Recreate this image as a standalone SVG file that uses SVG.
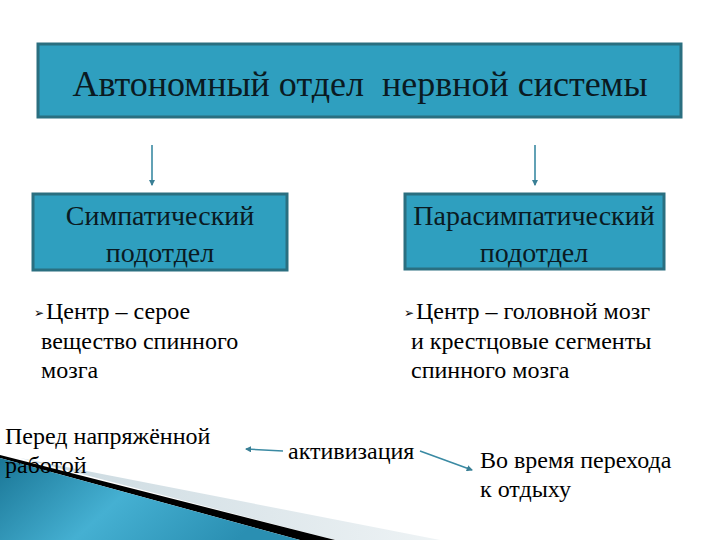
<svg xmlns="http://www.w3.org/2000/svg" width="720" height="540" viewBox="0 0 720 540">
<defs>
<style>
.box{fill:#2f9fbf;stroke:#2a6f80;stroke-width:3}
.t{fill:#0a1a22;font-family:'Liberation Serif','Tinos','Noto Serif','Times New Roman',Times,serif}
.big{font-size:36px}
.mid{font-size:28px}
.sm{font-size:24px;fill:#000}
.con{stroke:#3a8aa3;stroke-width:1.6;fill:none}
</style>
<marker id="ah" viewBox="0 0 6 6" refX="5" refY="3" markerWidth="4" markerHeight="4" orient="auto">
<path d="M0,0 L6,3 L0,6 z" fill="#3a7f95"/>
</marker>
<linearGradient id="bg" x1="0" y1="0" x2="1" y2="0.3">
<stop offset="0" stop-color="#1a7696"/>
<stop offset="0.5" stop-color="#45b0d2"/>
<stop offset="1" stop-color="#2a8fb2"/>
</linearGradient>
<linearGradient id="gg" x1="0" y1="0" x2="1" y2="0">
<stop offset="0" stop-color="#c9d8df"/>
<stop offset="1" stop-color="#eef3f5"/>
</linearGradient>
</defs>
<rect width="720" height="540" fill="#fff"/>
<g id="decor">
<polygon points="20,458 440,540 335,540" fill="url(#gg)"/>
<polygon points="0,455 335,540 300,540 0,458" fill="#000"/>
<polygon points="0,458 300,540 0,540" fill="url(#bg)"/>
</g>
<g id="connectors">
<line class="con" x1="152" y1="145" x2="152" y2="185" marker-end="url(#ah)"/>
<line class="con" x1="535" y1="145" x2="535" y2="185" marker-end="url(#ah)"/>
<line class="con" x1="283" y1="451" x2="246" y2="449" marker-end="url(#ah)"/>
<line class="con" x1="420" y1="451" x2="472" y2="470" marker-end="url(#ah)"/>
</g>
<g id="root">
<rect class="box" x="38" y="44" width="643" height="73"/>
<text class="t big" x="360" y="96" text-anchor="middle" xml:space="preserve">Автономный отдел  нервной системы</text>
</g>
<g id="sympathetic">
<rect class="box" x="33" y="194" width="254" height="76"/>
<text class="t mid" x="160" y="225" text-anchor="middle">Симпатический</text>
<text class="t mid" x="160" y="262" text-anchor="middle">подотдел</text>
</g>
<g id="parasympathetic">
<rect class="box" x="405" y="194" width="259" height="75"/>
<text class="t mid" x="534" y="225" text-anchor="middle">Парасимпатический</text>
<text class="t mid" x="534" y="262" text-anchor="middle">подотдел</text>
</g>
<g id="sympathetic-center">
<text x="34" y="317" font-family="DejaVu Sans, sans-serif" font-size="12" fill="#000">➢</text>
<text class="t sm" x="46" y="319">Центр – серое</text>
<text class="t sm" x="41" y="349">вещество спинного</text>
<text class="t sm" x="41" y="378">мозга</text>
</g>
<g id="parasympathetic-center">
<text x="404" y="317" font-family="DejaVu Sans, sans-serif" font-size="12" fill="#000">➢</text>
<text class="t sm" x="416" y="319">Центр – головной мозг</text>
<text class="t sm" x="411" y="349">и крестцовые сегменты</text>
<text class="t sm" x="411" y="378">спинного мозга</text>
</g>
<g id="before-work">
<text class="t sm" x="5" y="444">Перед напряжённой</text>
<text class="t sm" x="5" y="473">работой</text>
</g>
<g id="activation">
<text class="t sm" x="288" y="459">активизация</text>
</g>
<g id="rest">
<text class="t sm" x="480" y="468">Во время перехода</text>
<text class="t sm" x="480" y="497">к отдыху</text>
</g>
</svg>
